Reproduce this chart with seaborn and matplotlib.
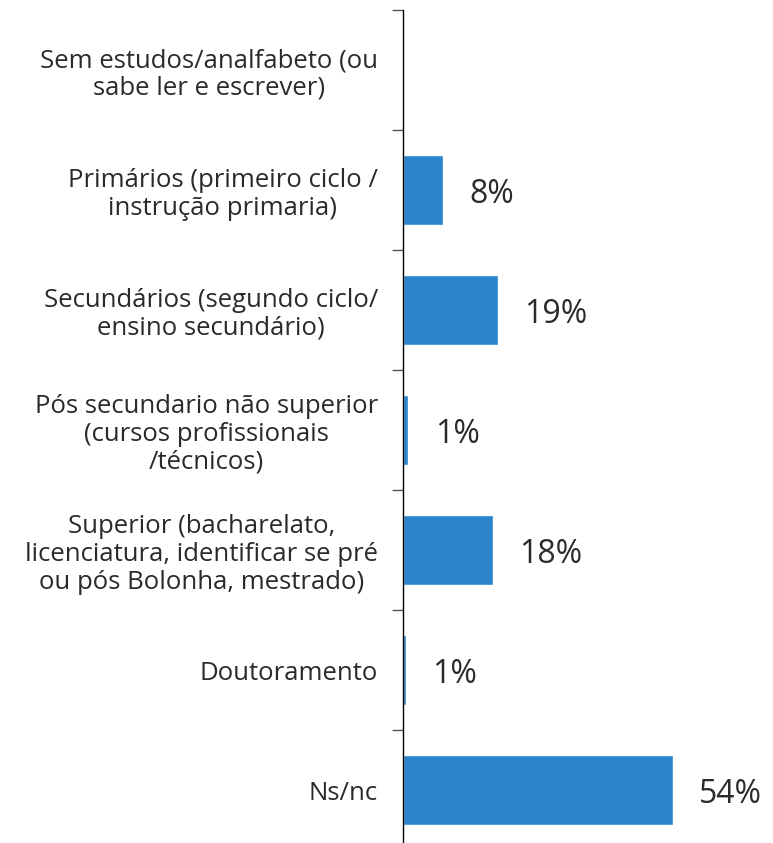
import numpy as np
import matplotlib
matplotlib.use("Agg")
import matplotlib.pyplot as plt
import seaborn as sns
import pandas as pd

categories = [
    "Sem estudos/analfabeto (ou\nsabe ler e escrever)",
    "Primários (primeiro ciclo /\ninstrução primaria)",
    "Secundários (segundo ciclo/\nensino secundário)",
    "Pós secundario não superior\n(cursos profissionais\n/técnicos)",
    "Superior (bacharelato,\nlicenciatura, identificar se pré\nou pós Bolonha, mestrado)",
    "Doutoramento",
    "Ns/nc",
]
values = [0, 8, 19, 1.1, 18, 0.6, 54]
value_labels = ["", "8%", "19%", "1%", "18%", "1%", "54%"]

df = pd.DataFrame({"cat": categories, "val": values})

sns.set_style("white")
plt.rcParams["font.family"] = ["Open Sans", "DejaVu Sans"]

fig = plt.figure(figsize=(7.73, 8.43), dpi=100)
ax = fig.add_axes([403 / 773, -7 / 843, 370 / 773, 840 / 843])

sns.barplot(data=df, x="val", y="cat", orient="h", color="#2B84CB",
            width=0.58, saturation=1, ax=ax)

ax.set_xlim(0, 74)
ax.set_ylim(len(categories) - 0.5, -0.5)
ax.set_xlabel("")
ax.set_ylabel("")
ax.set_xticks([])

for s in ["top", "right", "bottom"]:
    ax.spines[s].set_visible(False)
ax.spines["left"].set_color("black")
ax.spines["left"].set_linewidth(1.0)

ax.set_yticks(np.arange(-0.5, len(categories)), minor=True)
ax.tick_params(axis="y", which="major", left=False, length=0, pad=18,
               labelsize=18.5, labelcolor="#2a2a2a")
ax.tick_params(axis="y", which="minor", left=True, length=8, width=1,
               color="#555555")
for t in ax.get_yticklabels():
    t.set_multialignment("center")
    t.set_linespacing(1.15)

for i, (v, lab) in enumerate(zip(values, value_labels)):
    if lab:
        ax.annotate(lab, (v, i), xytext=(19, 0), textcoords="offset points",
                    ha="left", va="center_baseline", fontsize=23,
                    color="#2a2a2a")

fig.savefig("out.png", dpi=100)
